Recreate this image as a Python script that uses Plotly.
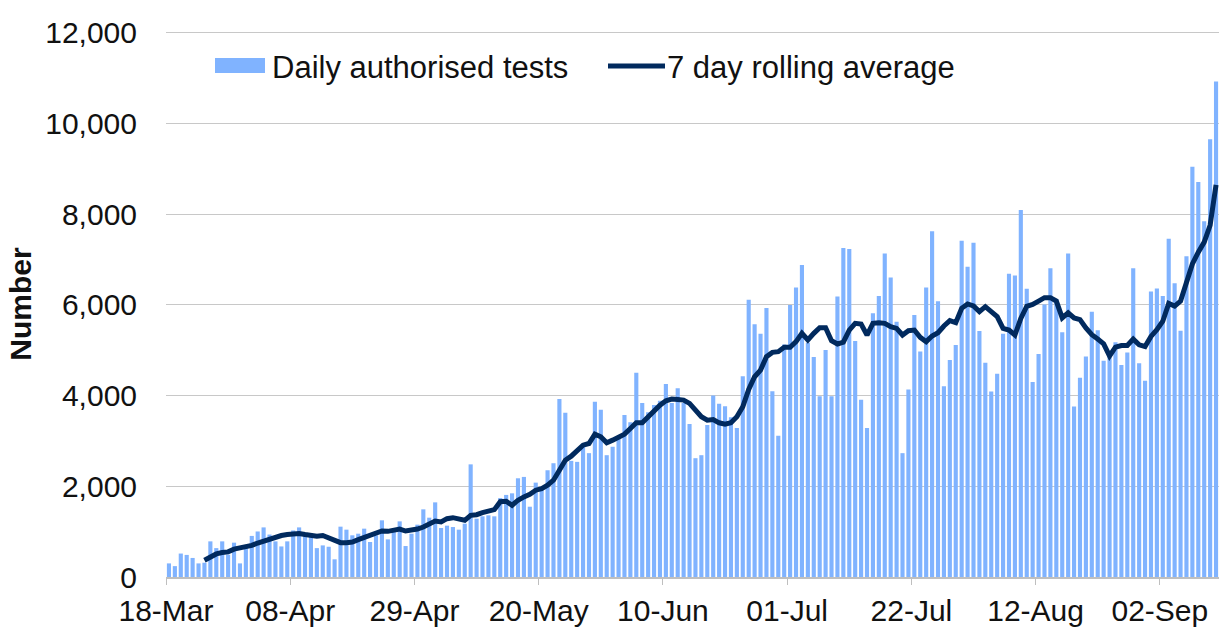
import pandas as pd
import plotly.graph_objects as go

start_date = "2020-03-18"

daily_tests = [
    300, 240, 517, 487, 420, 300, 315, 786, 637, 786,
    494, 757, 300, 637, 906, 1004, 1094, 936, 786, 674,
    786, 1026, 1094, 959, 900, 637, 697, 667, 390, 1110,
    1044, 919, 955, 1066, 772, 919, 1250, 830, 992, 1227,
    683, 955, 1154, 1492, 1308, 1646, 1080, 1132, 1102, 1044,
    1176, 2484, 1286, 1338, 1360, 1338, 1740, 1810, 1845, 2177,
    2207, 1550, 2081, 1993, 2354, 2509, 3926, 3624, 2561, 2539,
    2893, 2731, 3867, 3690, 2686, 2871, 3041, 3572, 3410, 4502,
    3838, 3631, 3793, 3889, 4258, 3838, 4160, 3838, 3373, 2620,
    2686, 3350, 4000, 3823, 3764, 3520, 3284, 4428, 6111, 5572,
    5365, 5934, 4096, 3114, 5129, 6000, 6384, 6878, 5166, 4849,
    3985, 5004, 3985, 6184, 7254, 7232, 5203, 3911, 3284, 5815,
    6199, 7136, 6605, 5631, 2731, 4133, 5779, 4974, 6384, 7624,
    6081, 4207, 4783, 5114, 7417, 6841, 7373, 5424, 4723, 4089,
    4480, 5365, 6686, 6649, 8095, 6355, 4302, 4919, 6011, 6806,
    6123, 5395, 7133, 3760, 4391, 4860, 5848, 5439, 4771, 4897,
    5179, 4674, 4949, 6806, 4711, 4325, 6293, 6360, 6197, 7460,
    6479, 5432, 7073, 9049, 8708, 7846, 9651, 10929,
]

rolling_avg = [
    None, None, None, None, None, None, 370, 449, 509, 539,
    554, 614, 637, 674, 697, 749, 794, 839, 876, 914,
    936, 951, 959, 936, 921, 899, 914, 861, 790, 757,
    757, 772, 823, 867, 897, 955, 1014, 1007, 1029, 1058,
    1014, 1029, 1058, 1102, 1176, 1235, 1213, 1286, 1308, 1279,
    1250, 1360, 1374, 1419, 1455, 1485, 1660, 1670, 1582, 1693,
    1766, 1825, 1914, 1950, 2024, 2134, 2355, 2576, 2664, 2782,
    2907, 2944, 3150, 3091, 2959, 3018, 3076, 3150, 3275, 3400,
    3400, 3533, 3665, 3790, 3886, 3925, 3916, 3901, 3827, 3680,
    3533, 3459, 3474, 3400, 3371, 3400, 3533, 3754, 4136, 4416,
    4563, 4858, 4953, 4968, 5064, 5064, 5189, 5373, 5226, 5373,
    5498, 5498, 5211, 5137, 5180, 5446, 5594, 5579, 5336, 5594,
    5608, 5594, 5520, 5483, 5336, 5432, 5446, 5285, 5189, 5314,
    5387, 5535, 5652, 5608, 5925, 6021, 5976, 5851, 5961, 5851,
    5741, 5483, 5446, 5336, 5700, 5970, 6011, 6085, 6160, 6160,
    6085, 5714, 5825, 5714, 5677, 5491, 5343, 5246, 5142, 4875,
    5068, 5105, 5105, 5246, 5120, 5083, 5306, 5454, 5640, 6033,
    5974, 6085, 6494, 6903, 7163, 7385, 7757, 8648,
]

tick_labels = ["18-Mar", "08-Apr", "29-Apr", "20-May", "10-Jun",
               "01-Jul", "22-Jul", "12-Aug", "02-Sep"]
y_ticks = [0, 2000, 4000, 6000, 8000, 10000, 12000]

dates = pd.date_range(start_date, periods=len(daily_tests), freq="D")
bar_x = dates + pd.Timedelta(hours=12)
tick_vals = pd.date_range(start_date, periods=len(tick_labels), freq="21D")

BAR_COLOR = "#80B3FF"
LINE_COLOR = "#012A5E"
FONT = "Liberation Sans, Arial, sans-serif"

fig = go.Figure()
fig.add_trace(go.Bar(x=bar_x, y=daily_tests, name="Daily authorised tests",
                     marker=dict(color=BAR_COLOR, line=dict(width=0))))
fig.add_trace(go.Scatter(x=bar_x, y=rolling_avg, name="7 day rolling average",
                         mode="lines", line=dict(color=LINE_COLOR, width=5)))

W, H = 1219, 630
Y_TOP = 12040
ml, mr, mt, mb = 166, 0, 31, 53
pw, ph = W - ml - mr, H - mt - mb


def px(x):
    return (x - ml) / pw


def py(y):
    return (H - mb - y) / ph


fig.update_layout(
    width=W, height=H,
    margin=dict(l=ml, r=mr, t=mt, b=mb, autoexpand=False),
    plot_bgcolor="white", paper_bgcolor="white",
    font=dict(family=FONT, size=30, color="#111111"),
    showlegend=False,
    bargap=0.3,
    xaxis=dict(
        type="date",
        range=[dates[0], dates[-1] + pd.Timedelta(days=1)],
        tickvals=tick_vals, ticktext=tick_labels,
        ticks="outside", ticklen=6, tickcolor="#BFBFBF", tickwidth=1,
        showline=True, linecolor="#BFBFBF", linewidth=1.5,
        showgrid=False, zeroline=False,
        tickfont=dict(size=30),
    ),
    yaxis=dict(
        range=[0, Y_TOP], tickvals=y_ticks, tickformat=",",
        showgrid=True, gridcolor="#C8C8C8", gridwidth=1.2,
        zeroline=False, showline=False, ticks="",
        ticklabelstandoff=28,
        tickfont=dict(size=30),
        title=dict(text="<b>Number</b>", font=dict(size=30), standoff=4),
    ),
)

fig.add_shape(type="rect", xref="paper", yref="paper",
              x0=px(215), x1=px(265), y0=py(73), y1=py(58),
              fillcolor=BAR_COLOR, line=dict(width=0))
fig.add_shape(type="line", xref="paper", yref="paper",
              x0=px(608), x1=px(665), y0=py(66), y1=py(66),
              line=dict(color=LINE_COLOR, width=5))
fig.add_annotation(xref="paper", yref="paper", x=px(270), y=py(67),
                   text="Daily authorised tests", showarrow=False,
                   xanchor="left", yanchor="middle", font=dict(size=31))
fig.add_annotation(xref="paper", yref="paper", x=px(665), y=py(67),
                   text="7 day rolling average", showarrow=False,
                   xanchor="left", yanchor="middle", font=dict(size=31))

fig.write_html(
    "out.html",
    config={"displayModeBar": False},
    post_script="document.body.style.margin='0';document.body.style.overflow='hidden';",
)
